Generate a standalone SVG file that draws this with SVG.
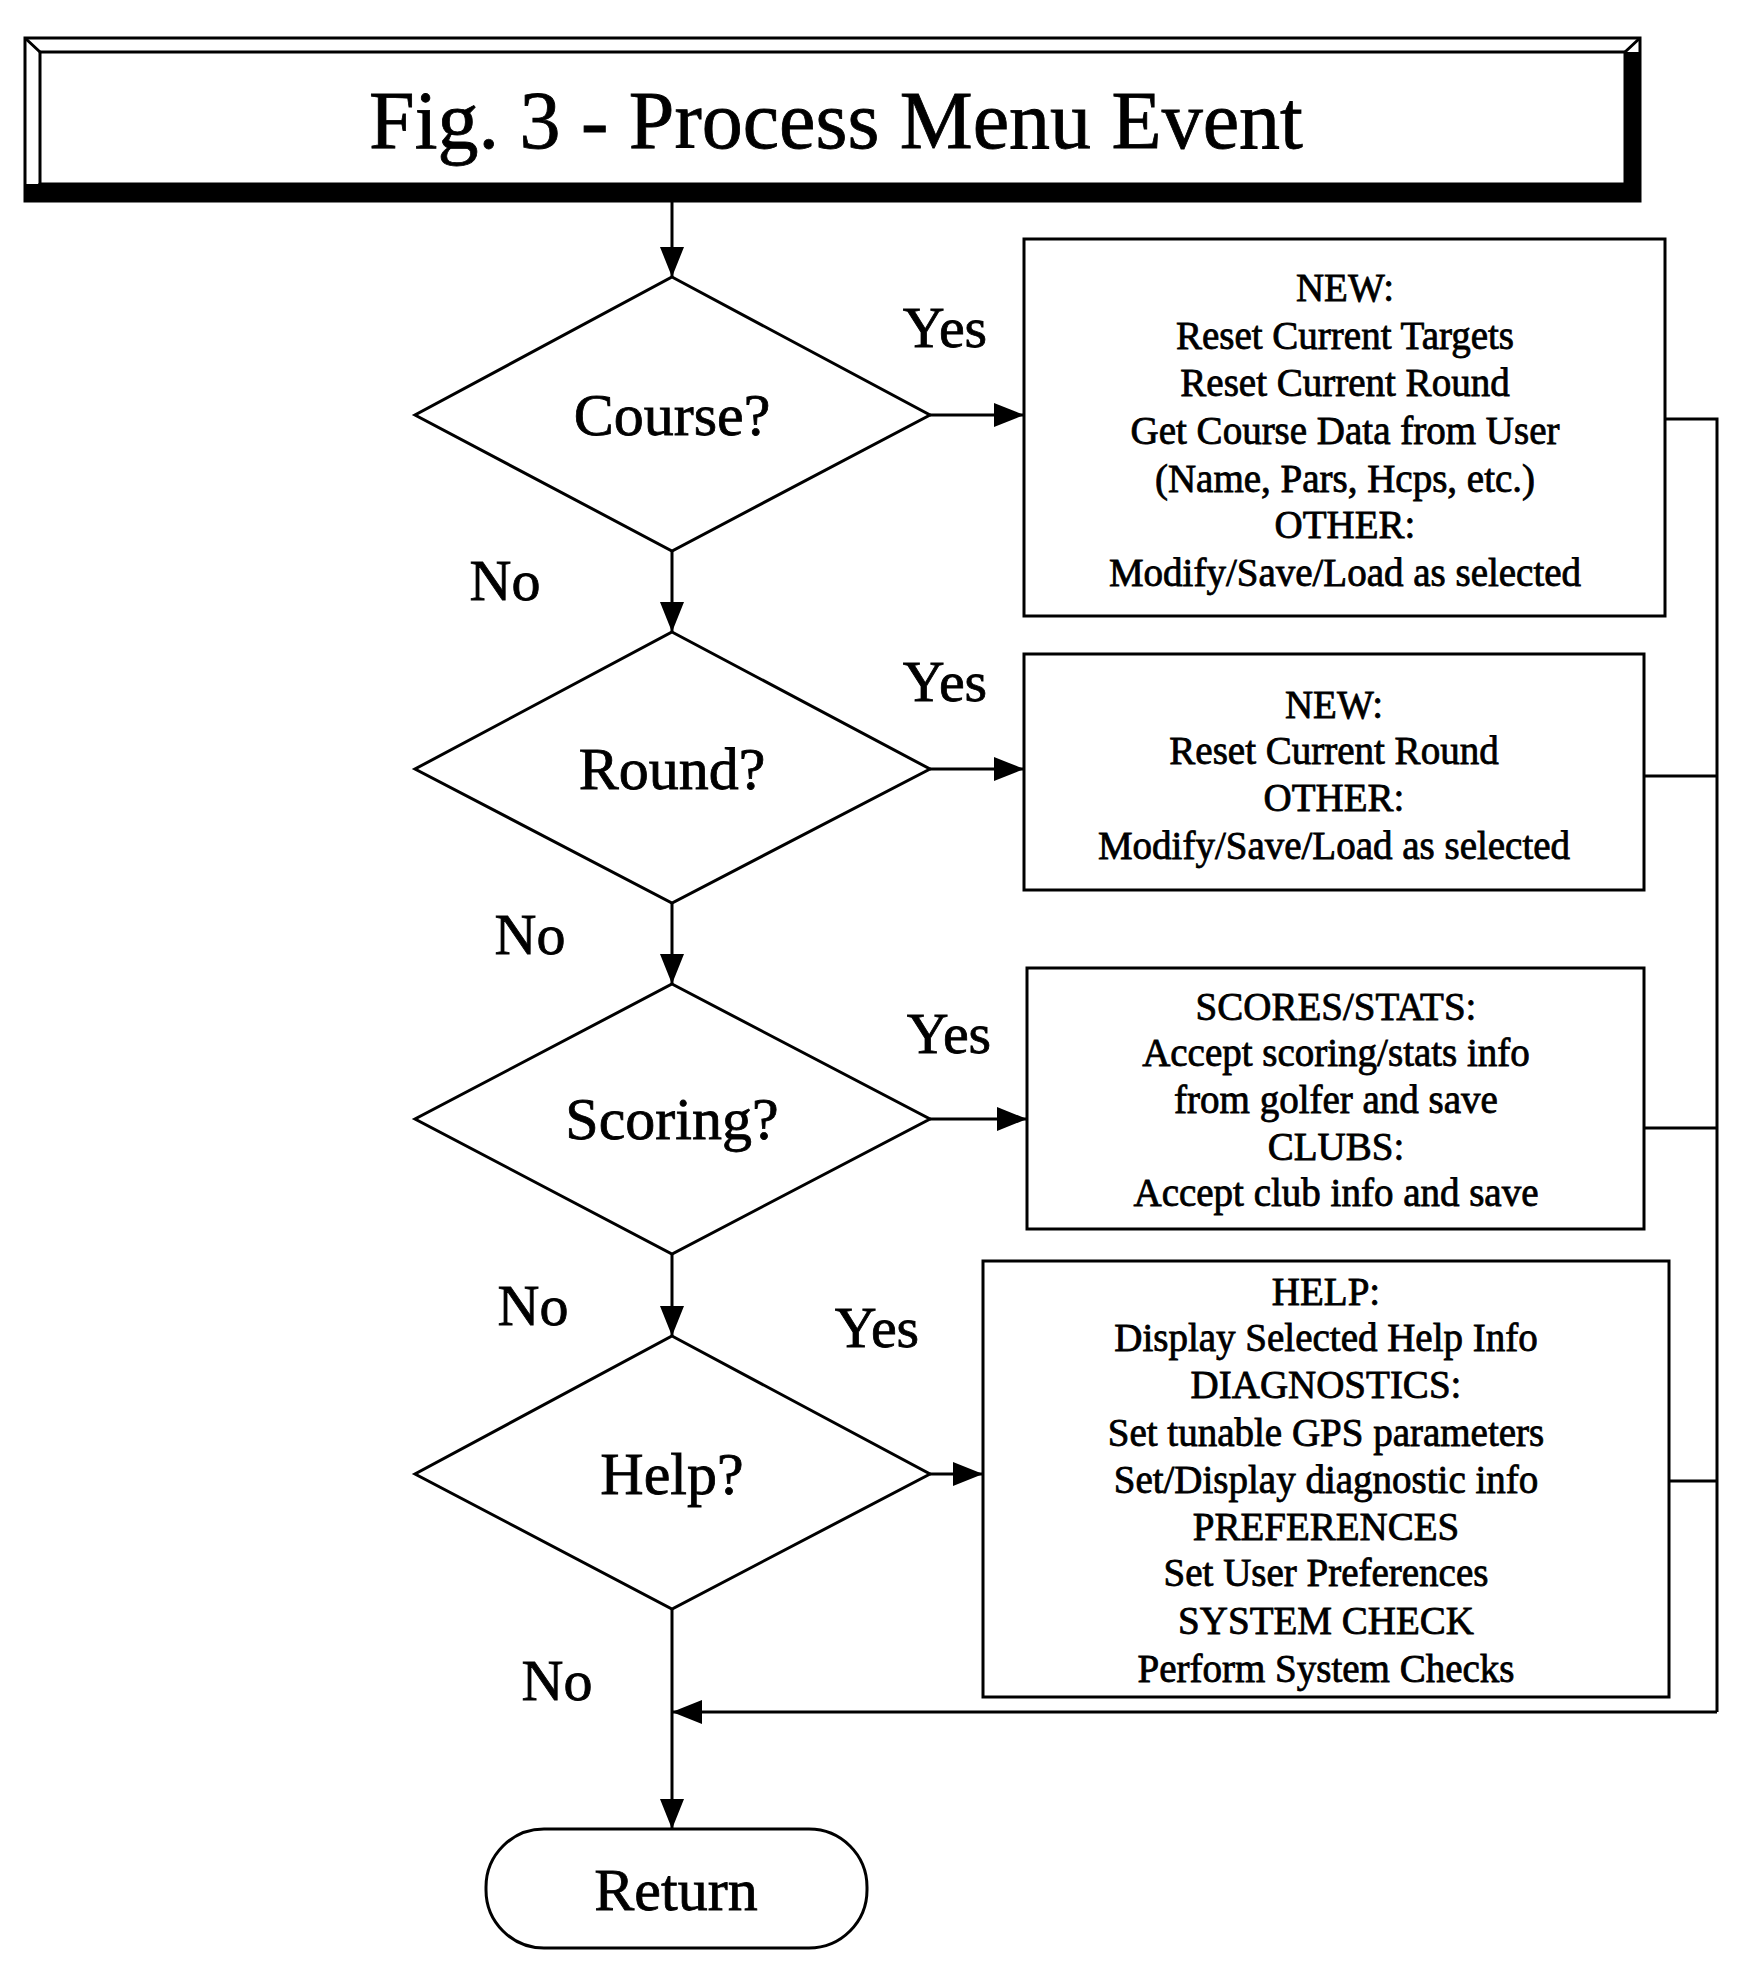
<svg xmlns="http://www.w3.org/2000/svg" width="1737" height="1965" viewBox="0 0 1737 1965">
<style>
text{font-family:"Liberation Serif","Times New Roman",serif;fill:#000;text-anchor:middle;dominant-baseline:central;stroke:#000;stroke-width:0.8}
.t{font-size:39px}
.d{font-size:60px}
.l{font-size:58px}
.s{fill:#fff;stroke:#000;stroke-width:3}
.c{fill:none;stroke:#000;stroke-width:3}
</style>
<defs><marker id="b" viewBox="0 0 10 10" refX="10" refY="5" markerWidth="30" markerHeight="30" markerUnits="userSpaceOnUse" orient="auto"><path d="M0,1L10,5L0,9z"/></marker></defs>
<g id="title">
<rect x="25" y="38" width="1615" height="163" class="s"/>
<rect x="40" y="52" width="1585" height="132" class="s"/>
<path d="M25,38L40,52M1640,38L1625,52M25,201L40,184M1640,201L1625,184" class="c"/>
<rect x="25" y="184" width="1615" height="17"/><rect x="1625" y="52" width="15" height="149"/>
<text x="836" y="120" style="font-size:82px">Fig. 3 - Process Menu Event</text>
</g>
<g id="course"><path d="M672,277L930,415L672,551L415,415Z" class="s"/><text class="d" x="672" y="415">Course?</text></g>
<g id="round"><path d="M672,632L930,769L672,903L415,769Z" class="s"/><text class="d" x="672" y="769">Round?</text></g>
<g id="scoring"><path d="M672,984L930,1119L672,1254L415,1119Z" class="s"/><text class="d" x="672" y="1119">Scoring?</text></g>
<g id="help"><path d="M672,1336L930,1474L672,1609L415,1474Z" class="s"/><text class="d" x="672" y="1474">Help?</text></g>
<g id="return"><rect x="486" y="1829" width="381" height="119" rx="58" class="s"/><text class="d" x="676" y="1890">Return</text></g>
<g id="box1"><rect x="1024" y="239" width="641" height="377" class="s"/>
<text class="t" x="1345" y="287">NEW:</text><text class="t" x="1345" y="335">Reset Current Targets</text><text class="t" x="1345" y="382">Reset Current Round</text><text class="t" x="1345" y="430">Get Course Data from User</text><text class="t" x="1345" y="478">(Name, Pars, Hcps, etc.)</text><text class="t" x="1345" y="524">OTHER:</text><text class="t" x="1345" y="572">Modify/Save/Load as selected</text></g>
<g id="box2"><rect x="1024" y="654" width="620" height="236" class="s"/>
<text class="t" x="1334" y="704">NEW:</text><text class="t" x="1334" y="750">Reset Current Round</text><text class="t" x="1334" y="797">OTHER:</text><text class="t" x="1334" y="845">Modify/Save/Load as selected</text></g>
<g id="box3"><rect x="1027" y="968" width="617" height="261" class="s"/>
<text class="t" x="1336" y="1006">SCORES/STATS:</text><text class="t" x="1336" y="1052">Accept scoring/stats info</text><text class="t" x="1336" y="1099">from golfer and save</text><text class="t" x="1336" y="1146">CLUBS:</text><text class="t" x="1336" y="1192">Accept club info and save</text></g>
<g id="box4"><rect x="983" y="1261" width="686" height="436" class="s"/>
<text class="t" x="1326" y="1291">HELP:</text><text class="t" x="1326" y="1337">Display Selected Help Info</text><text class="t" x="1326" y="1384">DIAGNOSTICS:</text><text class="t" x="1326" y="1432">Set tunable GPS parameters</text><text class="t" x="1326" y="1479">Set/Display diagnostic info</text><text class="t" x="1326" y="1526">PREFERENCES</text><text class="t" x="1326" y="1572">Set User Preferences</text><text class="t" x="1326" y="1620">SYSTEM CHECK</text><text class="t" x="1326" y="1668">Perform System Checks</text></g>
<g id="connectors">
<path d="M672,201V277" class="c" marker-end="url(#b)"/>
<path d="M672,551V632" class="c" marker-end="url(#b)"/>
<path d="M672,903V984" class="c" marker-end="url(#b)"/>
<path d="M672,1254V1336" class="c" marker-end="url(#b)"/>
<path d="M672,1609V1829" class="c" marker-end="url(#b)"/>
<path d="M930,415H1024" class="c" marker-end="url(#b)"/>
<path d="M930,769H1024" class="c" marker-end="url(#b)"/>
<path d="M930,1119H1027" class="c" marker-end="url(#b)"/>
<path d="M930,1474H983" class="c" marker-end="url(#b)"/>
<path d="M1665,419H1717V1712M1644,776H1717M1644,1128H1717M1669,1481H1717" class="c"/>
<path d="M1717,1712H672" class="c" marker-end="url(#b)"/>
<text class="l" x="945" y="327">Yes</text><text class="l" x="945" y="681">Yes</text><text class="l" x="949" y="1033">Yes</text><text class="l" x="877" y="1327">Yes</text>
<text class="l" x="505" y="580">No</text><text class="l" x="530" y="934">No</text><text class="l" x="533" y="1305">No</text><text class="l" x="557" y="1680">No</text>
</g>
</svg>
